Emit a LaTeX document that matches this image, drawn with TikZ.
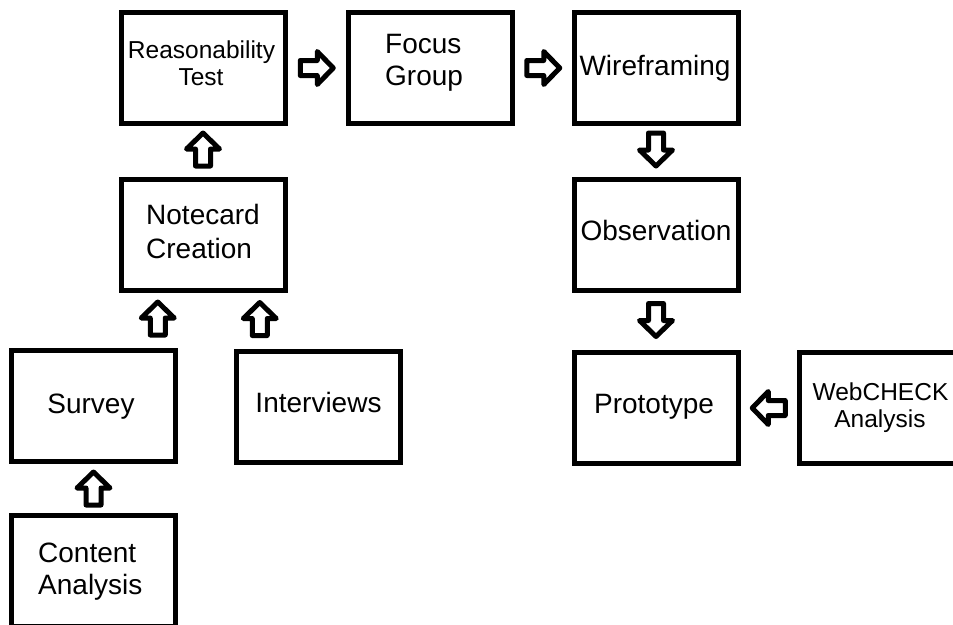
\documentclass[tikz,border=0pt]{standalone}
\usepackage{fontspec}
\setmainfont{Liberation Sans}
\usetikzlibrary{calc}

\tikzset{
  stage/.style={draw=black, line width=5pt, fill=white, inner sep=0pt,
    minimum width=164pt, minimum height=111pt},
  big/.style={font=\fontsize{28}{32}\selectfont, inner sep=0pt, text=black},
  small/.style={font=\fontsize{24.5}{28}\selectfont, inner sep=0pt, text=black},
  blockarrow/.pic={
    \draw[line width=5pt, fill=white, line join=round]
      (-16.5,-7.5) -- (0.5,-7.5) -- (0.5,-16.5) -- (16.5,0) -- (0.5,16.5)
      -- (0.5,7.5) -- (-16.5,7.5) -- cycle;
  }
}

\begin{document}
\begin{tikzpicture}[x=1pt, y=-1pt]
\useasboundingbox (0,0) rectangle (953,624);
\clip (0,0) rectangle (953,624);

% process stages
\node[stage] (reas)    at (203,68)    {};
\node[stage] (focus)   at (430.5,68)  {};
\node[stage] (wire)    at (656,68)    {};
\node[stage] (note)    at (203,235)   {};
\node[stage] (obs)     at (656,235)   {};
\node[stage] (survey)  at (93.5,406)  {};
\node[stage] (inter)   at (318.5,407) {};
\node[stage] (proto)   at (656,408)   {};
\node[stage] (web)     at (881.5,408) {};
\node[stage] (content) at (93.5,571)  {};

% labels
\node[small, anchor=base] (reasA) at (201.5,58) {Reasonability};
\node[small, anchor=base] (reasB) at (201,85) {Test};
\node[big, anchor=base west] (focusA) at (385,53) {Focus};
\node[big, anchor=base west] (focusB) at (385,85) {Group};
\node[big, anchor=base] (wireA) at (655,75) {Wireframing};
\node[big, anchor=base west] (noteA) at (146,224) {Notecard};
\node[big, anchor=base west] (noteB) at (146,258) {Creation};
\node[big, anchor=base] (obsA) at (656,240) {Observation};
\node[big, anchor=base] (surveyA) at (91,413) {Survey};
\node[big, anchor=base] (interA) at (318.5,412) {Interviews};
\node[big, anchor=base] (protoA) at (654,413) {Prototype};
\node[small, anchor=base] (webA) at (880.5,400) {WebCHECK};
\node[small, anchor=base] (webB) at (880,427) {Analysis};
\node[big, anchor=base west] (contentA) at (38,562) {Content};
\node[big, anchor=base west] (contentB) at (38,594) {Analysis};

% flow arrows
\pic (a1) at ($(reas.east)!0.5!(focus.west)$) {blockarrow};
\pic (a2) at ($(focus.east)!0.5!(wire.west)$) {blockarrow};
\pic[rotate=-90] (a3) at ($(wire.south)!0.5!(obs.north)+(0,-2)$) {blockarrow};
\pic[rotate=-90] (a4) at ($(obs.south)!0.5!(proto.north)+(0,-1.5)$) {blockarrow};
\pic[rotate=180] (a5) at ($(web.west)!0.5!(proto.east)$) {blockarrow};
\pic[rotate=90] (a6) at ($(note.north)!0.5!(reas.south)+(0,-2)$) {blockarrow};
\pic[rotate=90] (a7) at ($(survey.north)!0.5!(note.south)+(9.5,-2)$) {blockarrow};
\pic[rotate=90] (a8) at ($(inter.north)!0.5!(note.south)+(-1,-2)$) {blockarrow};
\pic[rotate=90] (a9) at ($(content.north)!0.5!(survey.south)$) {blockarrow};
\end{tikzpicture}
\end{document}
